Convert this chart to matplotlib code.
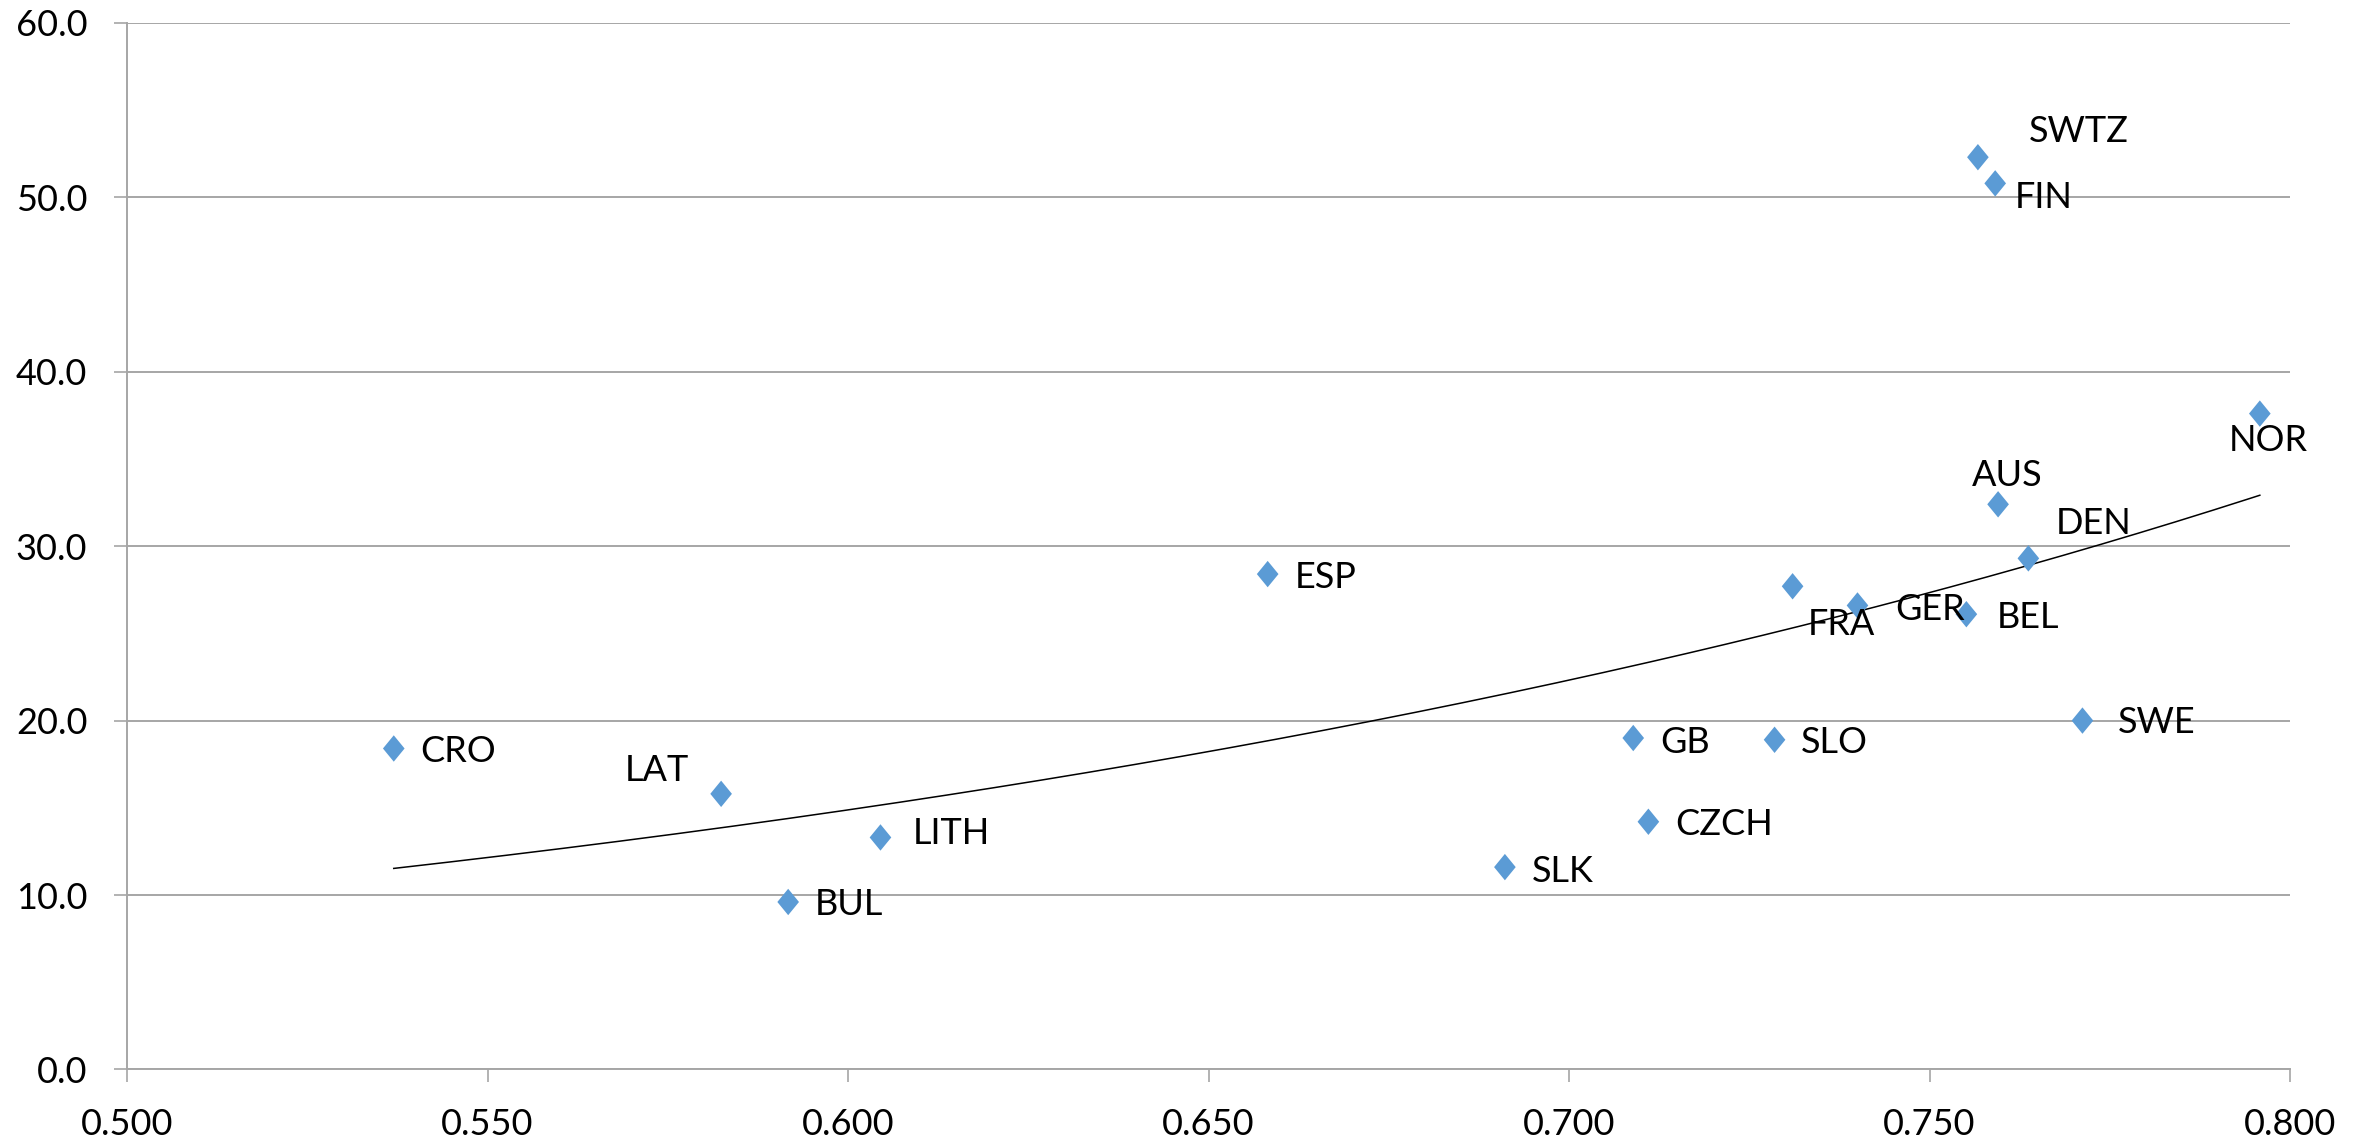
import numpy as np
import matplotlib
matplotlib.use("Agg")
import matplotlib.pyplot as plt
from matplotlib.path import Path

plt.rcParams['font.family'] = ['Lato', 'DejaVu Sans']

# Data
countries = ['CRO', 'LAT', 'BUL', 'LITH', 'ESP', 'SLK', 'GB', 'CZCH', 'SLO',
             'FRA', 'GER', 'BEL', 'SWTZ', 'FIN', 'AUS', 'DEN', 'SWE', 'NOR']
x_vals = [0.537, 0.5824, 0.5917, 0.6045, 0.6582, 0.6911, 0.7089, 0.7110, 0.7285,
          0.7310, 0.7400, 0.7551, 0.7567, 0.7591, 0.7595, 0.7637, 0.7712, 0.7958]
y_vals = [18.4, 15.8, 9.6, 13.3, 28.4, 11.6, 19.0, 14.2, 18.9,
          27.7, 26.6, 26.1, 52.3, 50.8, 32.4, 29.3, 20.0, 37.6]

x_ticks = [0.500, 0.550, 0.600, 0.650, 0.700, 0.750, 0.800]
y_ticks = [0, 10, 20, 30, 40, 50, 60]

# label placement: (dx, dy) in pixels, dy positive = up, plus horizontal alignment
label_offsets = {
    'CRO': (26, -3), 'LAT': (-32, 23), 'BUL': (27, -3), 'LITH': (32, 4),
    'ESP': (27, -3), 'SLK': (27, -4), 'GB': (27, -4), 'CZCH': (27, -3),
    'SLO': (26, -3), 'FRA': (15, -38), 'GER': (38, -4), 'BEL': (30, -3),
    'SWTZ': (51, 26), 'FIN': (20, -14), 'AUS': (9, 29), 'DEN': (27, 35),
    'SWE': (35, -2), 'NOR': (8, -27),
}
label_align = {'LAT': 'right', 'AUS': 'center', 'NOR': 'center'}

x = np.array(x_vals)
y = np.array(y_vals)

fig = plt.figure(figsize=(23.69, 11.45), dpi=100)
ax = fig.add_axes([0.0536, 0.066, 0.9131, 0.914])

# exponential trendline (least squares on ln y, like Excel)
b, ln_a = np.polyfit(x, np.log(y), 1)
xt = np.linspace(x.min(), x.max(), 200)
ax.plot(xt, np.exp(ln_a) * np.exp(b * xt), color='black', lw=1.1, zorder=2)

diamond = Path([(0, 1), (0.82, 0), (0, -1), (-0.82, 0), (0, 1)],
               [Path.MOVETO, Path.LINETO, Path.LINETO, Path.LINETO, Path.CLOSEPOLY])
ax.scatter(x, y, marker=diamond, s=19**2, color='#5B9BD5', edgecolors='none', zorder=3)

for name, xi, yi in zip(countries, x, y):
    dx, dy = label_offsets[name]
    ax.annotate(name, (xi, yi), xytext=(dx, dy), textcoords='offset pixels',
                ha=label_align.get(name, 'left'), va='center',
                fontsize=26, color='black', zorder=4)

ax.set_xlim(0.5, 0.8)
ax.set_ylim(0, 60)
ax.set_xticks(x_ticks)
ax.set_yticks(y_ticks)
ax.set_xticklabels([f'{t:.3f}' for t in x_ticks])
ax.set_yticklabels([f'{t:.1f}' for t in y_ticks])

grid_col = '#a6a6a6'
ax.yaxis.grid(True, color=grid_col, lw=1.4)
ax.set_axisbelow(True)
for s in ['top', 'right']:
    ax.spines[s].set_visible(False)
for s in ['left', 'bottom']:
    ax.spines[s].set_color(grid_col)
    ax.spines[s].set_linewidth(1.4)
ax.tick_params(axis='both', colors=grid_col, length=9.5, width=1.2, labelsize=26,
               labelcolor='black')
ax.tick_params(axis='x', pad=18)
ax.tick_params(axis='y', pad=19)

fig.savefig('out.png', dpi=100)
